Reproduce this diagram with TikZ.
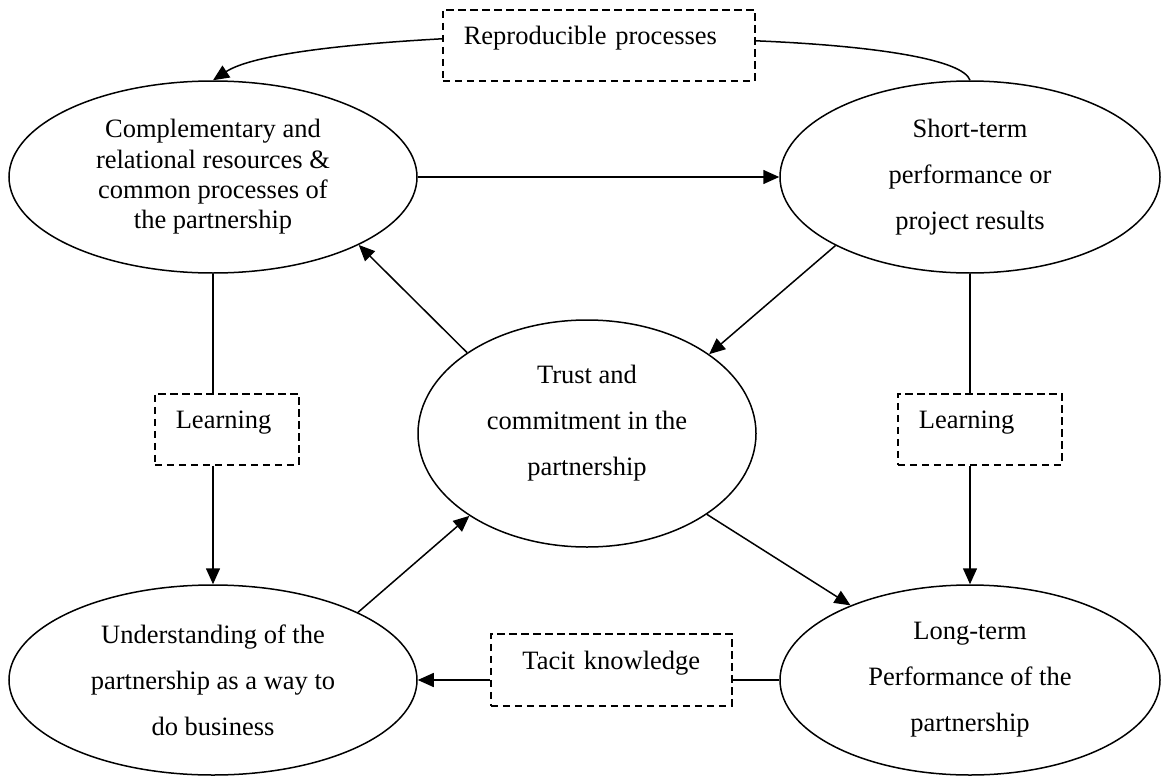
\documentclass[tikz,border=0pt]{standalone}
\usepackage{fontspec}
\setmainfont{Liberation Serif}
\usetikzlibrary{shapes.geometric,arrows.meta,calc}
\begin{document}
\begin{tikzpicture}[x=1pt,y=-1pt,
  ell/.style={draw, ellipse, line width=1.5pt, inner sep=0pt, align=center,
    font=\fontsize{26.5pt}{46pt}\selectfont},
  lbl/.style={inner sep=0pt, align=center, font=\fontsize{26.5pt}{46pt}\selectfont},
  dbox/.style={draw, rectangle, dash pattern=on 7.5pt off 4.5pt, line width=1.6pt,
    anchor=north west, inner xsep=21pt, inner ysep=0pt,
    text height=34.7pt, text depth=36.3pt, font=\fontsize{26.5pt}{30pt}\selectfont},
  link/.style={line width=1.5pt},
  arr/.style={link, -{Triangle[length=16pt,width=14pt]}},
]
\useasboundingbox (0,0) rectangle (1161,776);

% the five concepts
\node[ell, minimum width=408pt, minimum height=192pt,
      font=\fontsize{26.5pt}{30.3pt}\selectfont] (A) at (213,177)
  {Complementary and\\relational resources \&\\common processes of\\the partnership};
\node[ell, minimum width=380pt, minimum height=192pt] (B) at (970,177)
  {Short-term\\performance or\\project results};
\node[ell, minimum width=338pt, minimum height=227pt] (C) at (587,433.5) {};
\node[lbl] (Ctext) at (587,423) {Trust and\\commitment in the\\partnership};
\node[ell, minimum width=408pt, minimum height=190pt] (D) at (213,680)
  {Understanding of the\\partnership as a way to\\do business};
\node[ell, minimum width=380pt, minimum height=190pt] (E) at (970,680)
  {Long-term\\Performance of the\\partnership};

% dashed mediating boxes
\node[dbox, text width=270pt, align=left] (rep) at (442,9) {Reproducible processes};
\node[dbox, text width=102pt, align=left] (learnL) at (154,393) {Learning};
\node[dbox, text width=122pt, align=left] (learnR) at (897,393) {Learning};
\node[dbox, text width=199pt, align=center, text height=35.7pt] (tacit) at (490,633) {Tacit knowledge};

% direct relations
\draw[arr] (A.east) -- (B.west);
\draw[arr] (C.146.4) -- (A.-25.5);
\draw[arr] (B.207.2) -- (C.33.9);
\draw[arr] (D.25) -- (C.215.6);
\draw[arr] (C.-34.5) -- (E.148.7);

% relations through learning
\draw[link] (A.south) -- (A.south |- learnL.north);
\draw[arr] (A.south |- learnL.south) -- (D.north);
\draw[link] (B.south) -- (B.south |- learnR.north);
\draw[arr] (B.south |- learnR.south) -- (E.north);

% tacit knowledge
\draw[link] (E.west) -- (E.west -| tacit.east);
\draw[arr] (E.west -| tacit.west) -- (D.east);

% reproducible processes loop
\draw[link] ([yshift=4.5pt]rep.east) .. controls (880,46) and (963,60) .. (B.north);
\draw[arr] ([yshift=6.5pt]rep.west) .. controls (330,45) and (250,56) .. (A.north);
\end{tikzpicture}
\end{document}
